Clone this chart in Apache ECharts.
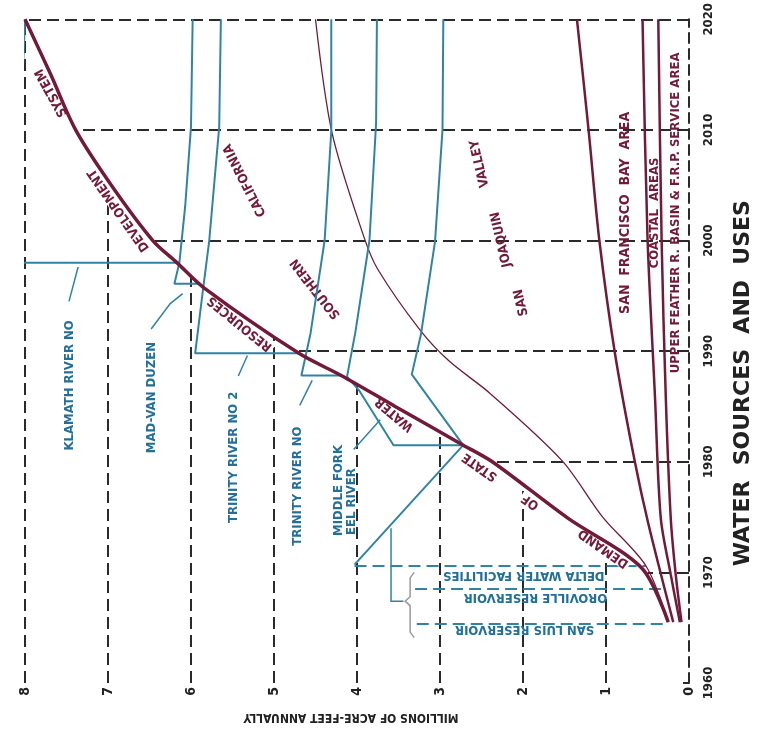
<!DOCTYPE html>
<html><head><meta charset="utf-8">
<script src="https://cdn.jsdelivr.net/npm/echarts@6/dist/echarts.min.js"></script>
<style>html,body{margin:0;padding:0;background:#fff}#c{width:762px;height:731px}</style>
</head><body><div id="c"></div>
<script>
// ---------------- DATA ----------------
const valueTickLabels = ['0','1','2','3','4','5','6','7','8'];
const yearTickLabels = ['1960','1970','1980','1990','2000','2010','2020'];

// Total demand: State Water Resources Development System
const demandYears  = [1965.5,1970.4,1974.9,1980.0,1981.5,1985.0,1987.8,1989.8,1995.7,1998.0,2000.0,2005.0,2010.0,2015.0,2020.0];
const demandValues = [0.25,0.57,1.46,2.37,2.72,3.54,4.19,4.70,5.84,6.17,6.46,6.96,7.39,7.69,8.00];

// Component boundaries (cumulative)
const socalYears   = [1965.5,1970.6,1975.0,1980.1,1986.2,1989.1,1991.8,1997.4,2000.4,2009.7,2020.0];
const socalValues  = [0.25,0.52,1.04,1.53,2.40,2.89,3.23,3.75,3.92,4.30,4.50];
const sfBayYears   = [1965.5,1974.4,1979.9,1989.7,2000.0,2010.0,2020.0];
const sfBayValues  = [0.19,0.49,0.65,0.89,1.08,1.21,1.35];
const coastalYears = [1965.5,1969.8,1974.9,1985.9,2000.3,2020.0];
const coastalValues= [0.11,0.22,0.34,0.41,0.50,0.56];
const featherYears = [1965.5,1969.8,1974.9,1985.9,2000.0,2020.0];
const featherValues= [0.09,0.16,0.22,0.28,0.33,0.37];

// Water sources (supply increments)
const initialYears  = [1970.7,1981.5,1987.9,1991.5,1999.9,2010.0,2020.0];
const initialValues = [4.03,2.72,3.34,3.23,3.06,2.97,2.96];
const middleForkYears  = [1981.5,1981.5,1986.4,1987.7,1991.7,2000.0,2010.6,2020.0];
const middleForkValues = [2.72,3.56,3.97,4.12,4.02,3.85,3.77,3.76];
const trinity1Years  = [1987.8,1987.8,1991.6,2000.0,2009.9,2020.0];
const trinity1Values = [4.19,4.67,4.56,4.39,4.31,4.31];
const trinity2Years  = [1989.8,1989.8,1995.3,2000.0,2010.3,2020.0];
const trinity2Values = [4.70,5.95,5.86,5.78,5.66,5.64];
const madVanYears  = [1996.1,1996.1,1998.0,2003.1,2010.3,2020.0];
const madVanValues = [5.89,6.20,6.14,6.07,6.00,5.98];
const klamathYears  = [1998.0,1998.0,2007.3,2020.0];
const klamathValues = [6.17,8.19,8.07,8.00];

// Initial facilities (dashed timing lines)
const facilityNames  = ['SAN LUIS RESERVOIR','OROVILLE RESERVOIR','DELTA WATER FACILITIES'];
const facilityYears  = [1965.4,1968.5,1970.6];
const facilityFrom   = [3.28,3.30,4.03];
const facilityTo     = [0.25,0.33,0.52];

// Grid segments bounded by the demand curve
const decadeYears   = [1970,1980,1990,2000,2010,2020];
const decadeDemand  = [0.50,2.37,4.70,6.46,7.39,8.00];
const valueLines    = [1,2,3,4,5,6,7,8];
const valueLineTop  = [1972.6,1977.9,1982.7,1987.0,1991.35,1996.8,2005.0,2020.0];

// ---------------- ANNOTATIONS (data coordinates) ----------------
const curveWords = [
  ['SYSTEM',7.68,2013.35,119],['DEVELOPMENT',6.87,2002.75,125],['RESOURCES',5.41,1992.5,141],
  ['WATER',3.55,1984.3,140],['STATE',2.52,1979.55,145],['OF',1.91,1976.4,145],['DEMAND',1.03,1972.2,145]
];
const regionWords = [
  ['SOUTHERN',4.50,1995.65,128],['CALIFORNIA',5.35,2005.45,117],
  ['SAN',2.02,1994.4,103],['JOAQUIN',2.26,2000.1,103],['VALLEY',2.52,2006.95,103],
  ['SAN  FRANCISCO  BAY  AREA',0.77,2002.5,90],['COASTAL  AREAS',0.42,2002.5,90],
  ['UPPER FEATHER R. BASIN & F.R.P. SERVICE AREA',0.16,2002.5,90]
];
const sourceWords = [
  ['KLAMATH RIVER NO',7.46,1986.9,90],['MAD-VAN DUZEN',6.48,1985.8,90],
  ['TRINITY RIVER NO 2',5.49,1980.4,90],['TRINITY RIVER NO',4.71,1977.8,90],
  ['MIDDLE FORK',4.22,1977.4,90],['EEL RIVER',4.06,1976.4,90],
  [facilityNames[0],1.98,1964.85,180],[facilityNames[1],1.85,1967.7,180],[facilityNames[2],1.99,1969.7,180]
];
const arrows = [
  [[7.47,1994.5],[7.36,1997.6]],
  [[6.48,1992.0],[6.25,1994.3],[6.10,1995.2]],
  [[5.43,1987.75],[5.32,1989.6]],
  [[4.69,1985.1],[4.54,1987.35]],
  [[4.04,1981.1],[3.72,1983.8]],
  [[3.44,1967.4],[3.59,1967.4],[3.59,1974.0]]
];
const bracket = [[3.31,1970.0],[3.36,1969.5],[3.36,1967.8],[3.42,1967.4],[3.36,1967.0],[3.36,1964.6],[3.31,1964.1]];

// ---------------- CHART ----------------
const RED = '#721a38', BLUE = '#2f84a6', TBLUE = '#22709a', GRID = '#2a2a2a';
const FONT = "'DejaVu Sans Condensed','DejaVu Sans',sans-serif";
const zip = (v, y) => v.map((x, i) => [x, y[i]]);

const gridSegs = [];
decadeYears.forEach((y, i) => gridSegs.push({coords: [[0, y], [decadeDemand[i], y]]}));
valueLines.forEach((v, i) => gridSegs.push({coords: [[v, 1960], [v, valueLineTop[i]]]}));
const facilitySegs = facilityYears.map((y, i) => ({coords: [[facilityFrom[i], y], [facilityTo[i], y]]}));

function textSeries(words, color, size, bg, z) {
  return {
    type: 'scatter', z: z, silent: true, symbolSize: 1,
    itemStyle: {color: 'rgba(0,0,0,0)', opacity: 1},
    data: words.map(w => ({value: [w[1], w[2]], label: {formatter: w[0], rotate: w[3]}})),
    label: {show: true, position: 'inside', align: 'center', verticalAlign: 'middle', opacity: 1,
      color: color, fontSize: size, fontWeight: 'bold', fontFamily: FONT,
      textBorderWidth: 0, backgroundColor: bg || 'transparent', padding: bg ? [0, 2] : 0}
  };
}
function lineSeries(v, y, color, width, z, smooth) {
  return {type: 'line', data: zip(v, y), showSymbol: false, symbol: 'none', smooth: smooth || false,
    lineStyle: {color: color, width: width}, z: z, silent: true};
}

const chart = echarts.init(document.getElementById('c'));
chart.setOption({
  animation: false,
  backgroundColor: '#fff',
  grid: {left: 25, right: 73, top: 14, bottom: 48},
  xAxis: {
    type: 'value', min: 0, max: 8, interval: 1, inverse: true,
    axisLine: {show: false}, axisTick: {show: false}, splitLine: {show: false},
    axisLabel: {rotate: 90, margin: 4, fontSize: 14, fontWeight: 'bold', color: '#222', fontFamily: FONT,
      formatter: v => valueTickLabels[Math.round(v)]},
    name: 'MILLIONS OF ACRE-FEET ANNUALLY', nameLocation: 'middle', nameGap: 28, nameRotate: 180,
    nameTextStyle: {fontSize: 12, fontWeight: 'bold', color: '#222', fontFamily: FONT, padding: [0, 0, 0, 12]}
  },
  yAxis: {
    type: 'value', min: 1960, max: 2020, interval: 10, position: 'right',
    axisLine: {show: true, lineStyle: {type: [10, 6], width: 2, color: GRID}},
    axisTick: {show: true, inside: true, length: 6, lineStyle: {width: 2, color: GRID}},
    splitLine: {show: false},
    axisLabel: {rotate: 90, margin: 13, fontSize: 13, fontWeight: 'bold', color: '#222', fontFamily: FONT,
      formatter: v => yearTickLabels[Math.round((v - 1960) / 10)]},
    name: 'WATER  SOURCES  AND  USES', nameLocation: 'middle', nameRotate: 90, nameGap: 43,
    nameTextStyle: {fontSize: 22, fontWeight: 'bold', color: '#222', fontFamily: "'DejaVu Sans',sans-serif",
      padding: [0, 64, 0, 0]}
  },
  series: [
    {type: 'lines', coordinateSystem: 'cartesian2d', data: gridSegs, silent: true, z: 1,
      lineStyle: {color: GRID, width: 2, type: [12, 6], opacity: 1}},
    {type: 'lines', coordinateSystem: 'cartesian2d', data: facilitySegs, silent: true, z: 2,
      lineStyle: {color: BLUE, width: 2, type: [12, 6], opacity: 1}},
    textSeries(curveWords, RED, 13, '#fff', 3),
    textSeries(regionWords.slice(0, 5), RED, 13, null, 3),
    textSeries(regionWords.slice(5, 6), RED, 14, null, 3),
    textSeries(regionWords.slice(6), RED, 13, null, 3),
    textSeries(sourceWords, TBLUE, 13, null, 3),
    lineSeries(featherValues, featherYears, RED, 2.5, 4, 0.3),
    lineSeries(coastalValues, coastalYears, RED, 2.5, 4, 0.3),
    lineSeries(sfBayValues, sfBayYears, RED, 2.5, 4, 0.3),
    lineSeries(socalValues, socalYears, RED, 1.3, 4, 0.3),
    lineSeries(initialValues, initialYears, BLUE, 2, 4),
    lineSeries(middleForkValues, middleForkYears, BLUE, 2, 4),
    lineSeries(trinity1Values, trinity1Years, BLUE, 2, 4),
    lineSeries(trinity2Values, trinity2Years, BLUE, 2, 4),
    lineSeries(madVanValues, madVanYears, BLUE, 2, 4),
    lineSeries(klamathValues, klamathYears, BLUE, 2, 4),
    lineSeries(demandValues, demandYears, RED, 3.5, 5, 0.3),
    {type: 'lines', coordinateSystem: 'cartesian2d', polyline: true, silent: true, z: 4,
      data: arrows.map(a => ({coords: a})), symbol: ['none', 'arrow'], symbolSize: 8,
      lineStyle: {color: BLUE, width: 1.5, opacity: 1}},
    {type: 'lines', coordinateSystem: 'cartesian2d', polyline: true, silent: true, z: 4,
      data: [{coords: bracket}], lineStyle: {color: '#999', width: 1.5, opacity: 1}}
  ]
});
</script></body></html>
